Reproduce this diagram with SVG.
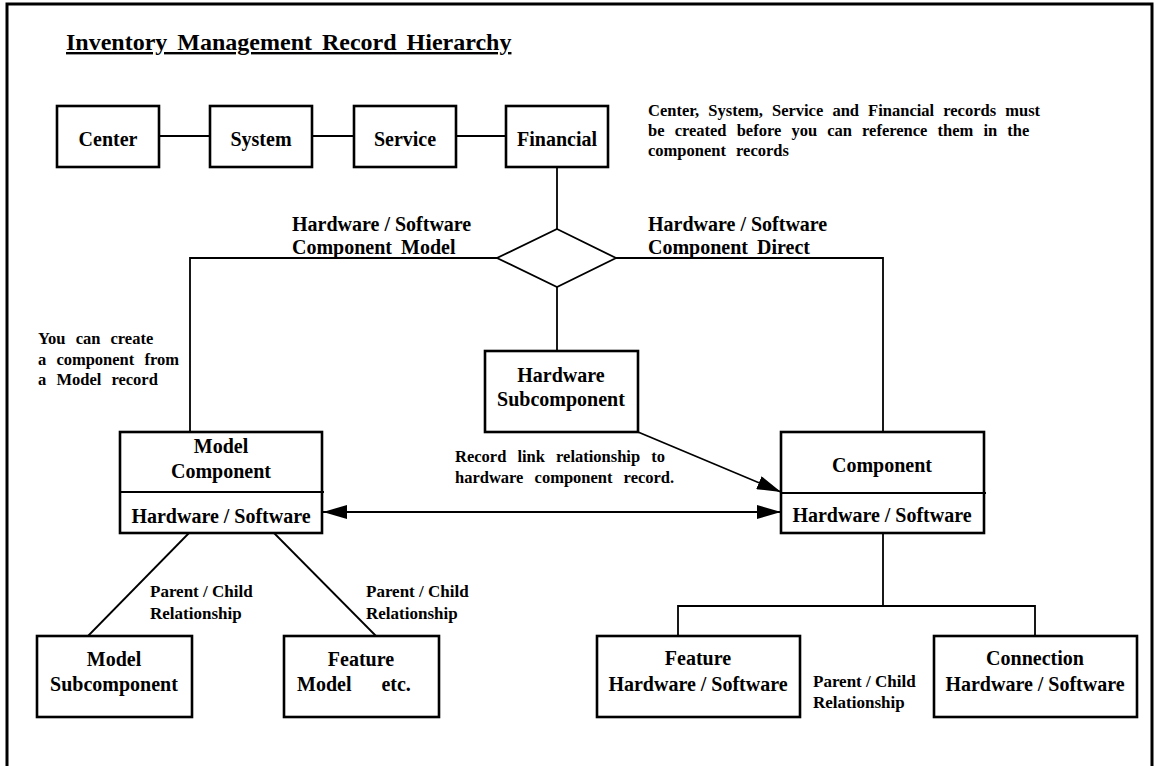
<svg xmlns="http://www.w3.org/2000/svg" width="1158" height="766" viewBox="0 0 1158 766">
  <style>
    .box { fill: #ffffff; stroke: #000000; stroke-width: 2.6; }
    .ln { fill: none; stroke: #000000; stroke-width: 1.8; }
    .frame { fill: none; stroke: #000000; stroke-width: 3; }
    text { font-family: "Liberation Serif", "Times New Roman", serif; font-weight: bold; fill: #000000; }
    .lbl { font-size: 20px; text-anchor: middle; }
    .cap { font-size: 20px; }
    .note { font-size: 16.5px; }
    .rel { font-size: 17px; }
    .title { font-size: 24px; text-decoration: underline; word-spacing: 4px; }
  </style>
  <defs>
    <marker id="arrow" markerUnits="userSpaceOnUse" markerWidth="26" markerHeight="14" refX="24" refY="7" orient="auto-start-reverse">
      <path d="M0,0 L24,7 L0,14 Z" fill="#000000"/>
    </marker>
  </defs>

  <rect width="1158" height="766" fill="#ffffff"/>
  <!-- page frame (open at the bottom) -->
  <path class="frame" d="M7,766 V4 H1152 V766"/>

  <text class="title" x="66" y="50">Inventory Management Record Hierarchy</text>

  <!-- connectors -->
  <g id="connectors">
    <line class="ln" x1="159" y1="136" x2="210" y2="136"/>
    <line class="ln" x1="312" y1="136" x2="354" y2="136"/>
    <line class="ln" x1="456" y1="136" x2="506" y2="136"/>
    <line class="ln" x1="557" y1="167" x2="557" y2="229"/>
    <polyline class="ln" points="497,258 190,258 190,432"/>
    <polyline class="ln" points="616,258 883,258 883,432"/>
    <line class="ln" x1="557" y1="287" x2="557" y2="351"/>
    <line class="ln" x1="638" y1="432" x2="781" y2="492" marker-end="url(#arrow)"/>
    <line class="ln" x1="323" y1="512" x2="781" y2="512" marker-start="url(#arrow)" marker-end="url(#arrow)"/>
    <line class="ln" x1="189" y1="533" x2="88" y2="636"/>
    <line class="ln" x1="274" y1="533" x2="376" y2="636"/>
    <line class="ln" x1="883" y1="533" x2="883" y2="606"/>
    <polyline class="ln" points="678,636 678,606 1035,606 1035,636"/>
  </g>

  <!-- connector labels and notes -->
  <g id="labels">
    <text class="note" x="648" y="116" word-spacing="5">Center, System, Service and Financial records must</text>
    <text class="note" x="648" y="136" word-spacing="6">be created before you can reference them in the</text>
    <text class="note" x="648" y="156" word-spacing="6">component records</text>
    <text class="cap" x="292" y="231">Hardware / Software</text>
    <text class="cap" x="292" y="254" word-spacing="4">Component Model</text>
    <text class="cap" x="648" y="231">Hardware / Software</text>
    <text class="cap" x="648" y="254" word-spacing="4">Component Direct</text>
    <text class="note" x="38" y="344" word-spacing="6">You can create</text>
    <text class="note" x="38" y="365" word-spacing="6">a component from</text>
    <text class="note" x="38" y="385" word-spacing="6">a Model record</text>
    <text class="note" x="455" y="462" word-spacing="7">Record link relationship to</text>
    <text class="note" x="455" y="483" word-spacing="7">hardware component record.</text>
    <text class="rel" x="150" y="597">Parent / Child</text>
    <text class="rel" x="150" y="619">Relationship</text>
    <text class="rel" x="366" y="597">Parent / Child</text>
    <text class="rel" x="366" y="619">Relationship</text>
    <text class="rel" x="813" y="687">Parent / Child</text>
    <text class="rel" x="813" y="708">Relationship</text>
  </g>

  <g id="center">
    <rect class="box" x="57" y="106" width="102" height="61"/>
    <text class="lbl" x="108" y="146">Center</text>
  </g>
  <g id="system">
    <rect class="box" x="210" y="106" width="102" height="61"/>
    <text class="lbl" x="261" y="146">System</text>
  </g>
  <g id="service">
    <rect class="box" x="354" y="106" width="102" height="61"/>
    <text class="lbl" x="405" y="146">Service</text>
  </g>
  <g id="financial">
    <rect class="box" x="506" y="106" width="102" height="61"/>
    <text class="lbl" x="557" y="146">Financial</text>
  </g>

  <g id="decision">
    <polygon class="ln" points="557,229 616,258 557,287 497,258" fill="#ffffff"/>
  </g>

  <g id="hardware-subcomponent">
    <rect class="box" x="485" y="351" width="153" height="81"/>
    <text class="lbl" x="561" y="382">Hardware</text>
    <text class="lbl" x="561" y="406">Subcomponent</text>
  </g>

  <g id="model-component">
    <rect class="box" x="120" y="432" width="202" height="101"/>
    <line class="ln" x1="120" y1="492" x2="324" y2="492"/>
    <text class="lbl" x="221" y="453">Model</text>
    <text class="lbl" x="221" y="478">Component</text>
    <text class="lbl" x="221" y="523">Hardware / Software</text>
  </g>

  <g id="component">
    <rect class="box" x="781" y="432" width="203" height="101"/>
    <line class="ln" x1="781" y1="493" x2="986" y2="493"/>
    <text class="lbl" x="882" y="472">Component</text>
    <text class="lbl" x="882" y="522">Hardware / Software</text>
  </g>

  <g id="model-subcomponent">
    <rect class="box" x="37" y="636" width="155" height="81"/>
    <text class="lbl" x="114" y="666">Model</text>
    <text class="lbl" x="114" y="691">Subcomponent</text>
  </g>

  <g id="feature-model">
    <rect class="box" x="284" y="636" width="155" height="81"/>
    <text class="lbl" x="361" y="666">Feature</text>
    <text class="cap" x="297" y="691" style="white-space: pre">Model      etc.</text>
  </g>

  <g id="feature-hw-sw">
    <rect class="box" x="597" y="636" width="203" height="81"/>
    <text class="lbl" x="698" y="665">Feature</text>
    <text class="lbl" x="698" y="691">Hardware / Software</text>
  </g>

  <g id="connection-hw-sw">
    <rect class="box" x="934" y="636" width="203" height="81"/>
    <text class="lbl" x="1035" y="665">Connection</text>
    <text class="lbl" x="1035" y="691">Hardware / Software</text>
  </g>
</svg>
